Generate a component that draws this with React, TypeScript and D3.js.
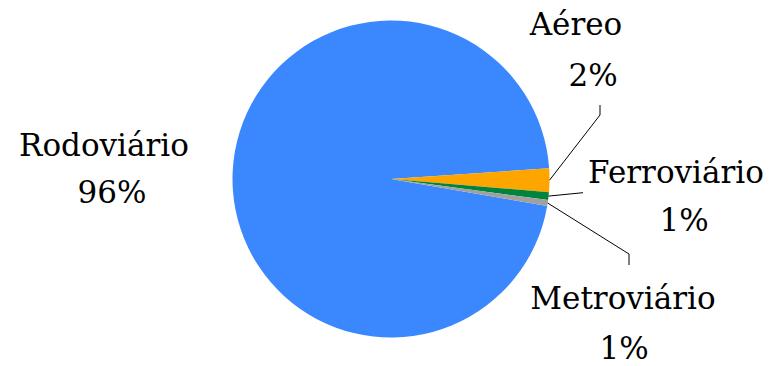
import React from "react";
import * as d3 from "d3";

const categories = ["Rodoviário", "Aéreo", "Ferroviário", "Metroviário"];
const values = [96.1, 2.4, 0.8, 0.6];
const colors = ["#3a87fe", "#ffa500", "#00843d", "#a0a0a0"];

// layout: label line-1 center/baseline, line-2 center & baseline, leader path (elbow, end)
const labelLayout = [
  { x1: 104, y1: 156, x2: 112, y2: 203, leader: null as null | number[][] },
  { x1: 576, y1: 35, x2: 593, y2: 86, leader: [[600, 115], [600, 105]] },
  { x1: 676, y1: 183, x2: 684, y2: 231, leader: [[583, 192.7]] },
  { x1: 623, y1: 309, x2: 624, y2: 359, leader: [[629, 254], [629, 265]] },
];

const W = 771, H = 366;
const cx = 391, cy = 179, R = 158.5;
const start = (99.8 / 180) * Math.PI;
const FONT = '"DejaVu Serif", serif';

export default function App() {
  const total = d3.sum(values);
  const pie = d3.pie<number>().sort(null).startAngle(start).endAngle(start + 2 * Math.PI);
  const arcs = pie(values);
  const arc = d3.arc<d3.PieArcDatum<number>>().innerRadius(0).outerRadius(R);
  const fmt = d3.format(".0%");
  return (
    <svg width={W} height={H} style={{ position: "absolute", left: 0, top: 0 }}>
      <rect width={W} height={H} fill="#fff" />
      <g transform={`translate(${cx},${cy})`}>
        {arcs.map((a, i) => (
          <path key={i} d={arc(a) || ""} fill={colors[i]} />
        ))}
      </g>
      {arcs.map((a, i) => {
        const L = labelLayout[i];
        if (!L.leader) return null;
        const mid = (a.startAngle + a.endAngle) / 2;
        const px = cx + Math.sin(mid) * R;
        const py = cy - Math.cos(mid) * R;
        const pts = [[px, py], ...L.leader];
        return <path key={"l" + i} d={d3.line()(pts as [number, number][]) || ""} fill="none" stroke="#000" strokeWidth={1} />;
      })}
      {categories.map((c, i) => {
        const L = labelLayout[i];
        return (
          <g key={"t" + i} style={{ fontFamily: FONT, fontSize: "31px" }} fill="#000" textAnchor="middle">
            <text x={L.x1} y={L.y1}>{c}</text>
            <text x={L.x2} y={L.y2}>{fmt(values[i] / total)}</text>
          </g>
        );
      })}
    </svg>
  );
}
